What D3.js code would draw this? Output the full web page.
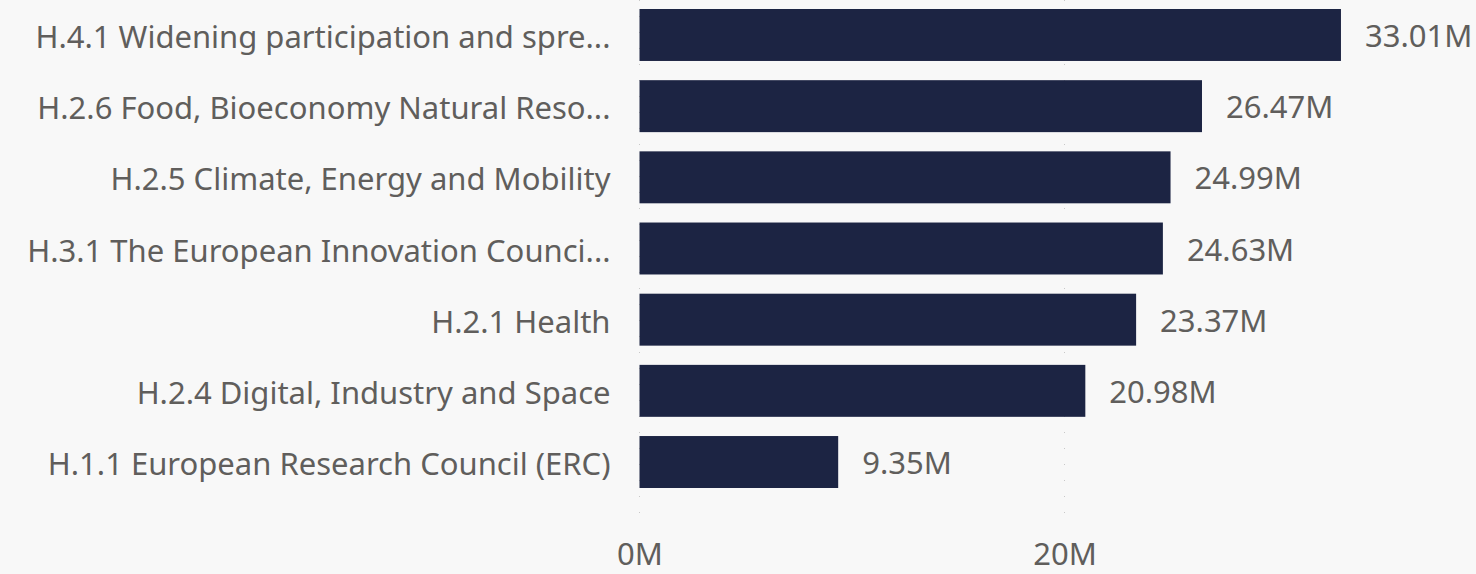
<!DOCTYPE html>
<html>
<head>
<meta charset="utf-8">
<script src="https://cdn.jsdelivr.net/npm/d3@7"></script>
<style>
  html, body { margin: 0; padding: 0; background: #f8f8f8; }
  svg { display: block; font-family: "Noto Sans", "Open Sans", sans-serif; }
</style>
</head>
<body>
<div id="chart"></div>
<script>
// chart data
var categories = [
    "H.4.1 Widening participation and spre...",
    "H.2.6 Food, Bioeconomy Natural Reso...",
    "H.2.5 Climate, Energy and Mobility",
    "H.3.1 The European Innovation Counci...",
    "H.2.1 Health",
    "H.2.4 Digital, Industry and Space",
    "H.1.1 European Research Council (ERC)"
];
var values = [33.01, 26.47, 24.99, 24.63, 23.37, 20.98, 9.35];
var tickValues = [0, 20];

var WIDTH = 1476;
var HEIGHT = 574;
var X0 = 639.5;   // left edge of bars
var PX_PER_M = 21.25;
var FONT = "\"Noto Sans\", \"Open Sans\", sans-serif";

var svg = d3.select("#chart").append("svg")
    .attr("width", WIDTH)
    .attr("height", HEIGHT);

svg.append("rect")
    .attr("width", WIDTH).attr("height", HEIGHT)
    .attr("fill", "#f8f8f8");

var x = d3.scaleLinear()
    .domain([0, 20])
    .range([X0, X0 + 20 * PX_PER_M]);

var y = d3.scaleBand()
    .domain(categories)
    .range([-0.6, 497.6])
    .paddingInner(0.27)
    .paddingOuter(0.135);

// dotted gridlines
svg.selectAll("line.grid")
    .data(tickValues)
    .enter().append("line")
    .attr("class", "grid")
    .attr("x1", function(d) { return x(d); })
    .attr("x2", function(d) { return x(d); })
    .attr("y1", 0)
    .attr("y2", 525)
    .attr("stroke", "#c8c8c8")
    .attr("stroke-width", 1)
    .attr("stroke-dasharray", "1,15");

// x axis tick labels
var xAxis = d3.axisBottom(x)
    .tickValues(tickValues)
    .tickSize(0)
    .tickPadding(0)
    .tickFormat(function(d) { return d + "M"; });

var gx = svg.append("g")
    .attr("transform", "translate(0,565)")
    .call(xAxis);
gx.select(".domain").remove();
gx.selectAll("text")
    .attr("y", 0)
    .attr("dy", 0)
    .attr("fill", "#605e5c")
    .style("font-size", "31px")
    .style("font-family", FONT);

// bars
svg.selectAll("rect.bar")
    .data(values)
    .enter().append("rect")
    .attr("class", "bar")
    .attr("x", x(0))
    .attr("y", function(d, i) { return y(categories[i]); })
    .attr("width", function(d) { return x(d) - x(0); })
    .attr("height", y.bandwidth())
    .attr("fill", "#1c2443");

// category labels
var yAxis = d3.axisLeft(y).tickSize(0).tickPadding(0);
var gy = svg.append("g")
    .attr("transform", "translate(" + (X0 - 29) + ",0)")
    .call(yAxis);
gy.select(".domain").remove();
gy.selectAll("text")
    .attr("dy", "0.42em")
    .attr("fill", "#605e5c")
    .style("font-size", "31px")
    .style("font-family", FONT);

// value labels
svg.selectAll("text.value")
    .data(values)
    .enter().append("text")
    .attr("class", "value")
    .attr("x", function(d) { return x(d) + 24; })
    .attr("y", function(d, i) { return y(categories[i]) + y.bandwidth() / 2; })
    .attr("dy", "0.39em")
    .attr("fill", "#605e5c")
    .style("font-size", "31px")
    .text(function(d) { return d.toFixed(2) + "M"; });
</script>
</body>
</html>
